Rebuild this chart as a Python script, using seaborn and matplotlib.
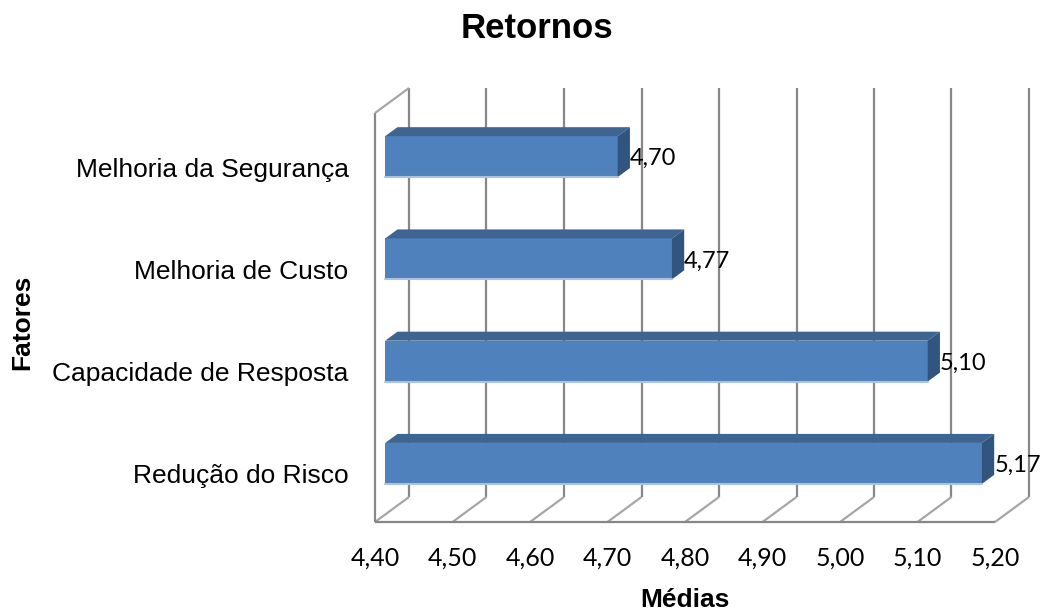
import numpy as np
import pandas as pd
import matplotlib
matplotlib.use("Agg")
import matplotlib.pyplot as plt
import matplotlib.transforms as mtransforms
import seaborn as sns
from matplotlib.patches import Polygon

# ---------------- data ----------------
categories = ["Melhoria da Segurança", "Melhoria de Custo",
              "Capacidade de Resposta", "Redução do Risco"]
medias = [4.70, 4.77, 5.10, 5.17]
value_labels = ["4,70", "4,77", "5,10", "5,17"]
x_ticks = [4.40, 4.50, 4.60, 4.70, 4.80, 4.90, 5.00, 5.10, 5.20]
x_tick_labels = ["4,40", "4,50", "4,60", "4,70", "4,80", "4,90", "5,00", "5,10", "5,20"]
title = "Retornos"
xlabel = "Médias"
ylabel = "Fatores"

# ---------------- style ----------------
sns.set_style("white")
plt.rcParams["font.family"] = ["Liberation Sans", "DejaVu Sans"]
plt.rcParams["text.color"] = "black"
plt.rcParams["xtick.labelcolor"] = "black"
plt.rcParams["ytick.labelcolor"] = "black"

FRONT = "#4f81bd"
TOP = "#3e6492"
SIDE = "#31557f"
EDGE_LIGHT = "#a9c2e2"
GRID = "#878787"
FLOOR = "#a6a6a6"
NUM_FONT = ["Lato", "DejaVu Sans"]

W, H = 1042, 612
fig = plt.figure(figsize=(W / 100, H / 100), dpi=100)
fig.patch.set_facecolor("white")

# front plane of the 3D box (pixels)
L, R, T, B = 375, 995, 113, 522
ax = fig.add_axes([L / W, 1 - B / H, (R - L) / W, (B - T) / H])
ax.set_facecolor("none")

df = pd.DataFrame({"Fator": categories, "Media": medias})
sns.barplot(data=df, x="Media", y="Fator", orient="h", width=0.4,
            color=FRONT, saturation=1, ax=ax, zorder=3)

n = len(categories)
xmin, xmax = x_ticks[0], x_ticks[-1]
ax.set_xlim(xmin, xmax)
ax.set_ylim(n - 0.5, -0.5)

# depth vector (full depth) in data units
DEPTH_PX = (34, 25)
ddx = DEPTH_PX[0] * (xmax - xmin) / (R - L)
ddy = -DEPTH_PX[1] * n / (B - T)
d0, d1 = 0.30, 0.66  # bar front / back depth fraction

# ---------------- walls & grid ----------------
line_kw = dict(clip_on=False, zorder=1, solid_capstyle="butt")
for t in x_ticks:
    ax.plot([t + ddx, t + ddx], [-0.5 + ddy, n - 0.5 + ddy], color=GRID, lw=1.6, **line_kw)
    ax.plot([t, t + ddx], [n - 0.5, n - 0.5 + ddy], color=FLOOR, lw=1.6, **line_kw)
ax.plot([xmin, xmax], [n - 0.5, n - 0.5], color=GRID, lw=1.6, **line_kw)
ax.plot([xmin, xmin], [-0.5, n - 0.5], color=GRID, lw=1.6, **line_kw)
ax.plot([xmin, xmin + ddx], [-0.5, -0.5 + ddy], color=FLOOR, lw=1.6, **line_kw)

# ---------------- 3D bars ----------------
for p, lab in zip(ax.patches, value_labels):
    y0 = p.get_y()
    h = p.get_height()
    val = p.get_x() + p.get_width()
    fx0 = xmin + d0 * ddx
    fx1 = val + d0 * ddx
    fy0 = y0 + d0 * ddy
    fy1 = y0 + h + d0 * ddy
    bdx = (d1 - d0) * ddx
    bdy = (d1 - d0) * ddy
    p.set_x(fx0)
    p.set_width(fx1 - fx0)
    p.set_y(fy0)
    p.set_clip_on(False)
    p.set_linewidth(0)
    p.set_zorder(3)
    top = Polygon([(fx0, fy0), (fx1, fy0), (fx1 + bdx, fy0 + bdy), (fx0 + bdx, fy0 + bdy)],
                  closed=True, facecolor=TOP, edgecolor="none", zorder=3, clip_on=False)
    side = Polygon([(fx1, fy0), (fx1, fy1), (fx1 + bdx, fy1 + bdy), (fx1 + bdx, fy0 + bdy)],
                   closed=True, facecolor=SIDE, edgecolor="none", zorder=3, clip_on=False)
    ax.add_patch(top)
    ax.add_patch(side)
    ax.plot([fx0, fx1], [fy1, fy1], color=EDGE_LIGHT, lw=1.5, zorder=4, clip_on=False)
    ax.text(fx1 + bdx, (fy0 + fy1) / 2 + 0.02, lab, ha="left", va="center",
            fontsize=17, family=NUM_FONT, color="black", zorder=5, clip_on=False)

# ---------------- axes cosmetics ----------------
for s in ax.spines.values():
    s.set_visible(False)
ax.set_xticks(x_ticks)
ax.set_xticklabels(x_tick_labels, fontsize=18, family=NUM_FONT, color="black")
ax.tick_params(axis="x", length=6, width=1.5, color=GRID, pad=12, direction="out")
ax.tick_params(axis="y", length=0, pad=19)
ax.set_yticks(range(n))
ax.set_yticklabels(categories, fontsize=19, color="black")
shift = mtransforms.ScaledTranslation(0, -3 / 100, fig.dpi_scale_trans)
for tl in ax.get_yticklabels():
    tl.set_transform(tl.get_transform() + shift)
ax.set_xlabel("")
ax.set_ylabel("")
ax.grid(False)

fig.text(537 / W, 1 - 29 / H, title, ha="center", va="center", fontsize=25,
         fontweight="bold", color="black")
fig.text(685 / W, 1 - 600 / H, xlabel, ha="center", va="center", fontsize=19,
         fontweight="bold", color="black")
fig.text(22 / W, 1 - 322 / H, ylabel, ha="center", va="center", rotation=90,
         fontsize=19, fontweight="bold", color="black")

fig.savefig("out.png", dpi=100)
